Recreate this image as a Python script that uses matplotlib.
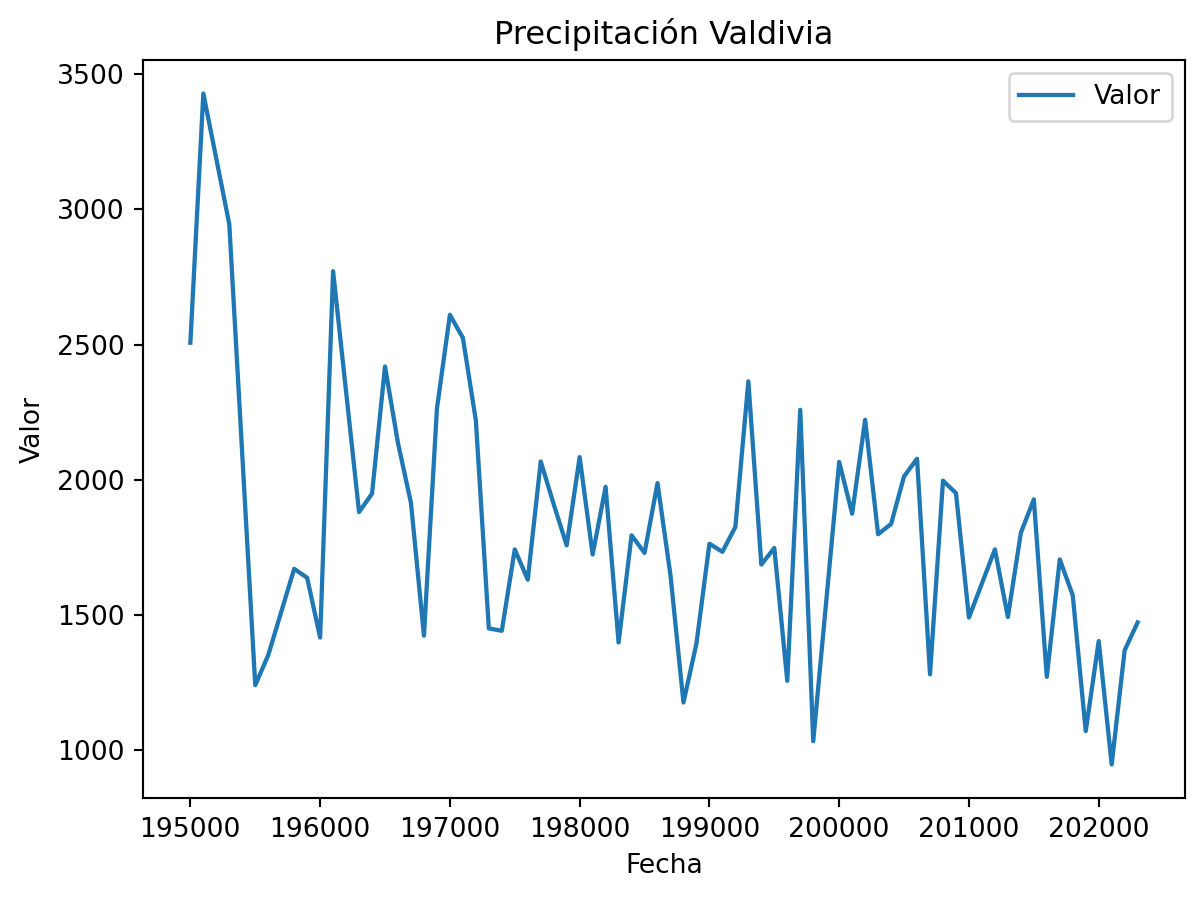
import numpy as np
import matplotlib.pyplot as plt

# fechas en formato AAAAMM
anios = [1950, 1951, 1953, 1955, 1956, 1958, 1959, 1960, 1961, 1963,
         1964, 1965, 1966, 1967, 1968, 1969, 1970, 1971, 1972, 1973,
         1974, 1975, 1976, 1977, 1978, 1979, 1980, 1981, 1982, 1983,
         1984, 1985, 1986, 1987, 1988, 1989, 1990, 1991, 1992, 1993,
         1994, 1995, 1996, 1997, 1998, 2000, 2001, 2002, 2003, 2004,
         2005, 2006, 2007, 2008, 2009, 2010, 2012, 2013, 2014, 2015,
         2016, 2017, 2018, 2019, 2020, 2021, 2022, 2023]
fecha = [a * 100 + 1 for a in anios]

valor = [2507, 3428, 2945, 1241, 1352, 1671, 1638, 1417, 2771, 1881,
         1949, 2419, 2136, 1915, 1424, 2263, 2610, 2525, 2220, 1451,
         1442, 1743, 1631, 2068, 1910, 1758, 2084, 1724, 1974, 1399,
         1795, 1730, 1988, 1647, 1177, 1395, 1764, 1734, 1826, 2364,
         1687, 1748, 1257, 2259, 1034, 2066, 1875, 2222, 1799, 1837,
         2013, 2078, 1281, 1997, 1951, 1491, 1743, 1493, 1804, 1928,
         1272, 1706, 1573, 1071, 1404, 948, 1370, 1473]

fig, ax = plt.subplots(figsize=(1203 / 192, 900 / 192), dpi=192)
ax.plot(fecha, valor, label='Valor', lw=1.6)
ax.set_title('Precipitación Valdivia')
ax.set_xlabel('Fecha')
ax.set_ylabel('Valor')
ax.ticklabel_format(axis='x', style='plain', useOffset=False)
ax.legend()
fig.subplots_adjust(left=143 / 1203, right=1185 / 1203,
                    bottom=1 - 798 / 900, top=1 - 60 / 900)
fig.savefig('out.png')
